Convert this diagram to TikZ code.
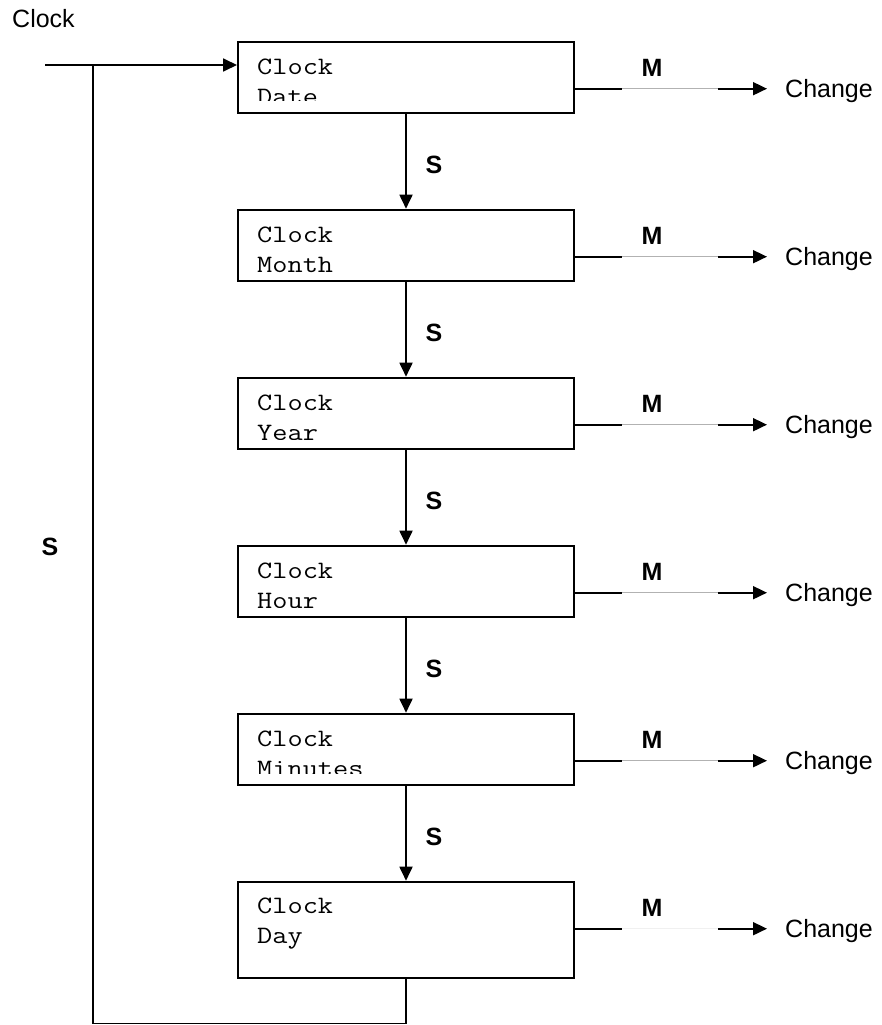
\documentclass[tikz,border=0pt]{standalone}
\usepackage{fontspec}
\setmainfont{Liberation Sans}
\newfontfamily\monof{Latin Modern Mono}[FakeStretch=1.18]
\usetikzlibrary{arrows.meta}
\begin{document}
\begin{tikzpicture}[x=1pt,y=-1pt,
  box/.style={draw, line width=2pt, minimum width=336pt, minimum height=71.5pt, anchor=north west, inner sep=0pt},
  btext/.style={font=\monof\fontsize{25}{30}\selectfont, inner sep=0pt, anchor=base west},
  lab/.style={font=\bfseries\fontsize{25}{30}\selectfont, inner sep=0pt},
  plain/.style={font=\fontsize{25}{30}\selectfont, inner sep=0pt},
  conn/.style={line width=1.8pt, -{Triangle[length=14pt,width=13pt]}},
  wire/.style={line width=1.8pt},
  gapw/.style={white, line width=2.6pt},
  gapg/.style={gray!60, line width=0.6pt},
]
\useasboundingbox (0,0) rectangle (882,1025);

\node[plain, anchor=base west] (title) at (12,28) {Clock};

\foreach \i/\t/\w/\cl in {1/40.7/Date/59.5, 2/208.7/Month/63.5, 3/376.7/Year/63, 4/544.7/Hour/62.5, 5/712.7/Minutes/60.5} {
  \node[box] (b\i) at (237,\t) {};
  \begin{scope}
    \clip (237,\t) rectangle (573,\t+\cl);
    \node[btext] (ta\i) at (257,\t+33.5) {Clock};
    \node[btext] (tb\i) at (257,\t+64) {\w};
  \end{scope}
  \node[lab] (m\i) at (652,\t+27) {M};
  \node[plain, anchor=west, text height=18pt, text depth=0pt] (c\i) at (785,\t+48) {Change};
  \draw[conn, shorten >=18pt] ([yshift=-48pt]b\i.north east) -- (c\i.west);
  \draw[gapw] (622,\t+48) -- (718,\t+48);
  \draw[gapg] (622,\t+48) -- (718,\t+48);
}

\node[box, minimum height=96pt] (b6) at (237,880.7) {};
\node[btext] (ta6) at (257,913.7) {Clock};
\node[btext] (tb6) at (257,943.7) {Day};
\node[lab] (m6) at (652,907.7) {M};
\node[plain, anchor=west, text height=18pt, text depth=0pt] (c6) at (785,928.7) {Change};
\draw[conn, shorten >=18pt] ([yshift=-48pt]b6.north east) -- (c6.west);
\draw[gapw] (622,928.7) -- (718,928.7);
\draw[gray!12, line width=0.6pt] (622,928.7) -- (718,928.7);

\foreach \i/\j in {1/2,2/3,3/4,4/5,5/6} {
  \draw[conn] (b\i.south) -- (b\j.north);
  \path (b\i.south) -- (b\j.north) node[midway, xshift=28pt, yshift=-3pt, lab] (s\i) {S};
}

\coordinate (in) at (45,65);
\draw[conn] (in) -- (in -| b1.west);
\coordinate (fb) at (93.3,1023.5);
\draw[wire] (b6.south) |- (fb) -- (fb |- in);
\node[lab] (sl) at (50,546.7) {S};
\end{tikzpicture}
\end{document}
